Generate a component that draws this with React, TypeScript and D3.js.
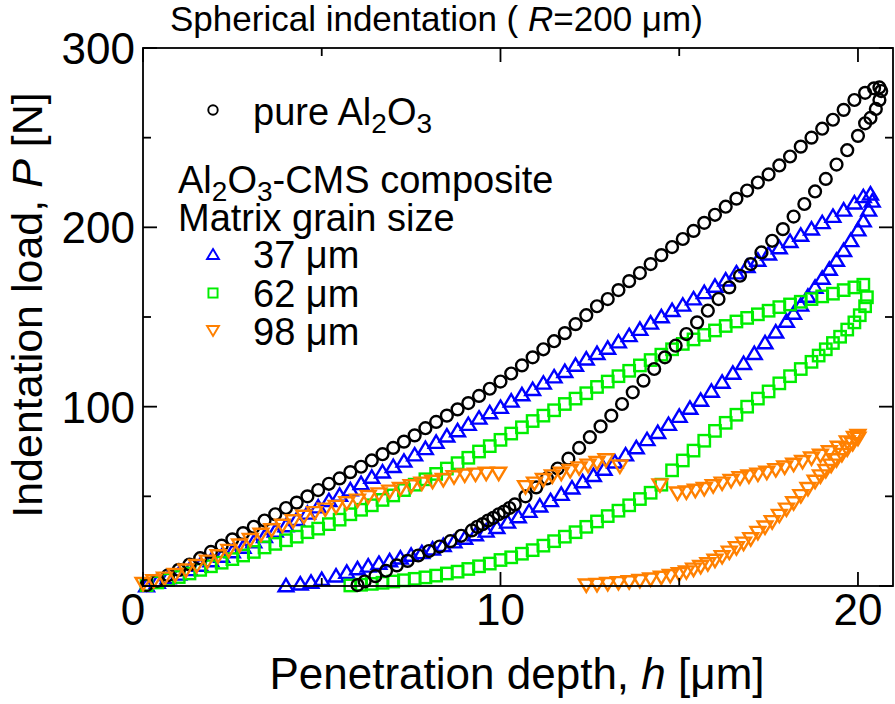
import * as d3 from "d3";

type Pt = [number, number];

// depth h [um], load P [N]
const aluminaLoad: Pt[] = [
  [0.1, 0.5], [0.4, 3], [0.7, 6], [1.0, 9], [1.3, 12], [1.6, 15.5], [1.9, 19], [2.2, 22.5], [2.5, 26],
  [2.8, 29.5], [3.1, 33], [3.4, 36.5], [3.7, 40], [4.0, 43.5], [4.3, 46.5], [4.6, 50], [4.9, 53.5],
  [5.2, 57], [5.5, 60], [5.8, 63.5], [6.1, 66.5], [6.4, 70], [6.7, 73.5], [7.0, 77], [7.3, 80.5],
  [7.6, 84], [7.9, 88], [8.2, 91.5], [8.5, 95], [8.8, 98.5], [9.1, 102], [9.4, 106], [9.7, 110],
  [10.0, 114], [10.3, 118.5], [10.6, 123], [10.9, 127.5], [11.2, 132], [11.5, 136.5], [11.8, 141],
  [12.1, 146], [12.4, 151], [12.7, 156], [13.0, 160], [13.3, 165], [13.6, 170], [13.9, 174.5],
  [14.2, 179.5], [14.5, 184.5], [14.8, 189], [15.1, 193.5], [15.4, 198], [15.7, 202.5], [16.0, 207],
  [16.3, 211.5], [16.6, 216], [16.9, 220.5], [17.2, 225], [17.5, 229.5], [17.8, 234.5], [18.1, 239.5],
  [18.4, 245], [18.7, 250], [19.0, 255], [19.3, 260], [19.6, 265.5], [19.9, 271], [20.2, 275],
  [20.45, 277.5], [20.6, 278],
];
const aluminaUnload: Pt[] = [
  [20.65, 276], [20.6, 271], [20.5, 266], [20.35, 261], [20.2, 258], [20.0, 251], [19.7, 243],
  [19.4, 235], [19.1, 227], [18.8, 220], [18.5, 213], [18.2, 206], [17.9, 199], [17.6, 192.5],
  [17.3, 186], [17.0, 179.5], [16.7, 173], [16.4, 166.5], [16.1, 160], [15.8, 153.5], [15.5, 147],
  [15.2, 140.5], [14.9, 134], [14.6, 127.5], [14.3, 121], [14.0, 114.5], [13.7, 108], [13.4, 101.5],
  [13.1, 95], [12.8, 89], [12.5, 83], [12.2, 77], [11.9, 71], [11.6, 65.5], [11.3, 60], [11.0, 55],
  [10.7, 50], [10.4, 45.5], [10.25, 43.5], [10.1, 41.5], [9.95, 40], [9.8, 38], [9.65, 36.5],
  [9.5, 34.5], [9.35, 33], [9.2, 31], [8.9, 28], [8.6, 25], [8.3, 22], [8.0, 19.5], [7.7, 17],
  [7.4, 14], [7.1, 11.5], [6.8, 8.5], [6.5, 5.5], [6.2, 2.5], [6.0, 0.5],
];

const grain37Load: Pt[] = [
  [0.1, 0.5], [0.4, 2.5], [0.7, 5], [1.0, 7], [1.3, 9.5], [1.6, 12], [1.9, 14.5], [2.2, 17],
  [2.5, 19.5], [2.8, 22], [3.1, 25], [3.4, 28], [3.7, 31], [4.0, 34], [4.3, 37.5], [4.6, 41],
  [4.9, 44.5], [5.2, 48], [5.5, 51], [5.8, 54], [6.1, 57.5], [6.4, 61], [6.7, 64], [7.0, 67],
  [7.3, 70], [7.6, 73.5], [7.9, 77], [8.2, 80.5], [8.5, 84], [8.8, 87], [9.1, 90.5], [9.4, 94],
  [9.7, 97], [10.0, 100], [10.3, 103.5], [10.6, 107], [10.9, 110], [11.2, 113.5], [11.5, 117],
  [11.8, 120], [12.1, 123.5], [12.4, 127], [12.7, 130], [13.0, 133], [13.3, 136.5], [13.6, 140],
  [13.9, 143.5], [14.2, 147], [14.5, 150.5], [14.8, 154], [15.1, 157], [15.4, 160.5], [15.7, 164],
  [16.0, 167.5], [16.3, 171], [16.6, 175], [16.9, 178.5], [17.2, 182], [17.5, 185.5], [17.8, 189],
  [18.1, 192.5], [18.4, 196], [18.7, 199.5], [19.0, 203], [19.3, 206.5], [19.6, 210], [19.9, 214],
  [20.15, 217.5], [20.35, 219],
];
const grain37Unload: Pt[] = [
  [20.4, 215], [20.3, 210], [20.15, 204], [20.0, 199], [19.8, 193], [19.6, 187.5], [19.4, 182],
  [19.2, 177], [19.0, 172], [18.8, 167], [18.6, 162], [18.4, 157], [18.2, 152.5], [18.0, 148],
  [17.7, 142], [17.4, 136], [17.1, 130], [16.8, 124.5], [16.5, 119], [16.2, 114], [15.9, 109],
  [15.6, 104], [15.3, 99.5], [15.0, 95], [14.7, 90.5], [14.4, 86], [14.1, 82], [13.8, 77.5],
  [13.5, 73.5], [13.2, 69.5], [12.9, 65.5], [12.6, 62], [12.3, 58.5], [12.0, 55], [11.7, 51.5],
  [11.4, 48], [11.1, 45], [10.8, 42], [10.5, 39], [10.2, 36], [9.9, 33], [9.6, 31], [9.3, 29],
  [9.0, 27], [8.7, 25], [8.4, 23], [8.1, 21], [7.8, 19], [7.5, 17.5], [7.2, 16], [6.9, 14.5],
  [6.6, 13], [6.3, 11.5], [6.0, 10], [5.7, 8], [5.4, 6], [5.0, 4], [4.7, 2.5], [4.4, 1.5], [4.0, 0.5],
];

const grain62Load: Pt[] = [
  [0.1, 0.5], [0.4, 2], [0.7, 3.5], [1.0, 5], [1.3, 7], [1.6, 9], [1.9, 11], [2.2, 13], [2.5, 15],
  [2.8, 17], [3.1, 19], [3.4, 21.5], [3.7, 23.5], [4.0, 25.5], [4.3, 27.5], [4.6, 30], [4.9, 32],
  [5.2, 34.5], [5.5, 37], [5.8, 40], [6.1, 42.5], [6.4, 45], [6.7, 48], [7.0, 50.5], [7.3, 53.5],
  [7.6, 56.5], [7.9, 59.5], [8.2, 62.5], [8.5, 65.5], [8.8, 68.5], [9.1, 71.5], [9.4, 75], [9.7, 78],
  [10.0, 81.5], [10.3, 85], [10.6, 88.5], [10.9, 92], [11.2, 95], [11.5, 98], [11.8, 101.5],
  [12.1, 104.5], [12.4, 107.5], [12.7, 111], [13.0, 114], [13.3, 117], [13.6, 120], [13.9, 123],
  [14.2, 126], [14.5, 129], [14.8, 132], [15.1, 135], [15.4, 137.5], [15.7, 140], [16.0, 142.5],
  [16.3, 145], [16.6, 147.5], [16.9, 149.5], [17.2, 151.5], [17.5, 153.5], [17.8, 155.5], [18.1, 157],
  [18.4, 158.5], [18.7, 160], [19.0, 161.5], [19.3, 163], [19.6, 165], [19.9, 166.5], [20.15, 168],
];
const grain62Unload: Pt[] = [
  [20.25, 161], [20.2, 156], [20.05, 151], [19.9, 147], [19.7, 143], [19.5, 139], [19.3, 135.5],
  [19.1, 132], [18.9, 128.5], [18.7, 125], [18.4, 121], [18.1, 117], [17.8, 113], [17.5, 108.5],
  [17.2, 104.5], [16.9, 100], [16.6, 95.5], [16.3, 91], [16.0, 86.5], [15.7, 81], [15.4, 75.5],
  [15.1, 70], [14.8, 64.5], [14.5, 56.5], [14.2, 52], [13.9, 48.5], [13.6, 45], [13.3, 42],
  [13.0, 39], [12.7, 36], [12.4, 33], [12.1, 30], [11.8, 27.5], [11.5, 25], [11.2, 22.5], [10.9, 20],
  [10.6, 18], [10.3, 16], [10.0, 14.5], [9.7, 12.5], [9.4, 11], [9.1, 9.5], [8.8, 8], [8.5, 7],
  [8.2, 5.8], [7.9, 4.8], [7.6, 4], [7.3, 3.2], [7.0, 2.5], [6.7, 1.8], [6.4, 1.2], [6.1, 0.7], [5.8, 0.3],
];

const grain98Load: Pt[] = [
  [0.0, 1], [0.3, 2.5], [0.6, 4], [0.9, 6], [1.2, 8.5], [1.5, 11], [1.8, 13.5], [2.1, 16.5],
  [2.4, 19.5], [2.7, 22.5], [3.0, 25.5], [3.3, 28.5], [3.6, 31], [3.9, 33.5], [4.2, 36], [4.5, 38.5],
  [4.8, 40.5], [5.1, 42.5], [5.4, 44], [5.7, 46], [6.0, 47.5], [6.3, 49.5], [6.6, 51], [6.9, 52.5],
  [7.2, 54], [7.5, 55.5], [7.8, 57], [8.1, 58], [8.4, 59], [8.7, 60.5], [9.0, 61.5], [9.3, 62],
  [9.6, 62.5], [9.95, 62.5],
  [10.7, 55], [10.95, 57], [11.2, 59], [11.45, 61], [11.7, 62.5], [11.95, 64], [12.2, 65.5],
  [12.45, 67], [12.7, 68.5], [12.95, 70], [13.34, 66.5],
  [14.46, 56],
  [14.95, 51.5], [15.2, 52], [15.45, 53], [15.7, 54], [15.95, 55.5], [16.2, 57], [16.45, 58.5],
  [16.7, 60], [16.95, 61], [17.2, 62], [17.45, 63], [17.7, 64.5], [17.95, 66], [18.2, 67.5],
  [18.45, 69], [18.7, 71], [18.95, 72.5], [19.2, 74.5], [19.45, 77], [19.7, 80], [19.9, 82.5],
  [20.0, 83.5],
];
const grain98Unload: Pt[] = [
  [20.0, 82], [19.85, 79], [19.7, 76], [19.55, 73], [19.4, 70], [19.25, 67], [19.1, 64], [18.95, 61],
  [18.8, 58], [18.6, 54], [18.4, 50], [18.2, 46], [18.0, 42.5], [17.8, 39], [17.6, 35.5], [17.4, 32.5],
  [17.2, 29.5], [17.0, 26], [16.8, 23.5], [16.6, 21], [16.4, 18.5], [16.2, 16], [16.0, 14], [15.8, 12],
  [15.6, 10.5], [15.4, 9], [15.2, 7.5], [15.0, 6.5], [14.75, 5.5], [14.5, 4.5], [14.2, 3.5],
  [13.9, 2.7], [13.6, 2], [13.3, 1.5], [13.0, 1], [12.7, 0.5], [12.4, 0.2],
];

const xMajorTicks = [0, 10, 20];
const xMinorTicks = [5, 15];
const yMajorTicks = [0, 100, 200, 300];
const yMinorTicks = [50, 150, 250];
const yTickLabels = [100, 200, 300];

const grainLabels = ["37 \u03bcm", "62 \u03bcm", "98 \u03bcm"];

const blue = "#0000ff";
const green = "#00ee00";
const orange = "#ff8000";

const font = "'Liberation Sans', Arial, Helvetica, sans-serif";

const width = 895;
const height = 704;
const left = 143;
const right = 893;
const top = 48;
const bottom = 586;

type Shape = "circle" | "up" | "square" | "down";

function Marker({ shape, x, y, color, s = 1 }: { shape: Shape; x: number; y: number; color: string; s?: number }) {
  const sw = 2.4 * s;
  if (shape === "circle") {
    return <circle cx={x} cy={y} r={5.9 * s} fill="none" stroke={color} strokeWidth={sw} />;
  }
  if (shape === "square") {
    const a = 5.7 * s;
    return <rect x={x - a} y={y - a} width={2 * a} height={2 * a} fill="none" stroke={color} strokeWidth={sw} />;
  }
  const w = 7.4 * s;
  const h = 6.2 * s;
  const d =
    shape === "up"
      ? `M${x},${y - h}L${x + w},${y + h}L${x - w},${y + h}Z`
      : `M${x},${y + h}L${x + w},${y - h}L${x - w},${y - h}Z`;
  return <path d={d} fill="none" stroke={color} strokeWidth={sw} strokeLinejoin="miter" />;
}

export default function App() {
  const x = d3.scaleLinear().domain([0, 20.98]).range([left, right]);
  const y = d3.scaleLinear().domain([0, 300]).range([bottom, top]);

  const series: { pts: Pt[]; shape: Shape; color: string }[] = [
    { pts: grain37Load, shape: "up", color: blue },
    { pts: grain37Unload, shape: "up", color: blue },
    { pts: grain62Load, shape: "square", color: green },
    { pts: grain62Unload, shape: "square", color: green },
    { pts: aluminaLoad, shape: "circle", color: "#000" },
    { pts: aluminaUnload, shape: "circle", color: "#000" },
    { pts: grain98Load, shape: "down", color: orange },
    { pts: grain98Unload, shape: "down", color: orange },
  ];

  const major = 14;
  const minor = 8;

  return (
    <svg
      width={width}
      height={height}
      style={{ position: "absolute", left: 0, top: 0, background: "#fff" }}
      fontFamily={font}
    >
      <rect width={width} height={height} fill="#fff" />

      {/* data */}
      <g>
        {series.map((s, i) =>
          s.pts.map((p, j) => (
            <Marker key={`${i}-${j}`} shape={s.shape} x={x(p[0])} y={y(p[1])} color={s.color} />
          )),
        )}
      </g>

      {/* frame and ticks */}
      <g stroke="#000" strokeWidth={1.8} fill="none">
        <rect x={left} y={top} width={right - left} height={bottom - top} />
        {xMajorTicks.map((t) => (
          <g key={`xm${t}`}>
            <line x1={x(t)} x2={x(t)} y1={bottom} y2={bottom - major} />
            <line x1={x(t)} x2={x(t)} y1={top} y2={top + major} />
          </g>
        ))}
        {xMinorTicks.map((t) => (
          <g key={`xn${t}`}>
            <line x1={x(t)} x2={x(t)} y1={bottom} y2={bottom - minor} />
            <line x1={x(t)} x2={x(t)} y1={top} y2={top + minor} />
          </g>
        ))}
        {yMajorTicks.map((t) => (
          <g key={`ym${t}`}>
            <line x1={left} x2={left + major} y1={y(t)} y2={y(t)} />
            <line x1={right} x2={right - major} y1={y(t)} y2={y(t)} />
          </g>
        ))}
        {yMinorTicks.map((t) => (
          <g key={`yn${t}`}>
            <line x1={left} x2={left + minor} y1={y(t)} y2={y(t)} />
            <line x1={right} x2={right - minor} y1={y(t)} y2={y(t)} />
          </g>
        ))}
      </g>

      {/* tick labels */}
      <g fontSize={44} fill="#000">
        {xMajorTicks.map((t) => (
          <text key={`xl${t}`} x={x(t) - (t === 0 ? 10 : 0)} y={bottom + 39} textAnchor="middle">
            {t}
          </text>
        ))}
        {yTickLabels.map((t) => (
          <text key={`yl${t}`} x={left - 8} y={y(t) + 16} textAnchor="end">
            {t}
          </text>
        ))}
      </g>

      {/* axis titles */}
      <text x={517} y={689} fontSize={44} textAnchor="middle">
        Penetration depth, <tspan fontStyle="italic">h</tspan> [{"\u03bc"}m]
      </text>
      <text transform="translate(42,305) rotate(-90)" fontSize={43} textAnchor="middle">
        Indentation load, <tspan fontStyle="italic">P</tspan> [N]
      </text>
      <text x={170} y={31} fontSize={35}>
        Spherical indentation ( <tspan fontStyle="italic">R</tspan>=200 {"\u03bc"}m)
      </text>

      {/* legend */}
      <g fontSize={38} fill="#000">
        <Marker shape="circle" x={213} y={110} color="#000" s={0.8} />
        <text x={253} y={125}>
          pure Al<tspan fontSize={28} dy={8}>2</tspan>
          <tspan dy={-8}>O</tspan>
          <tspan fontSize={28} dy={8}>3</tspan>
        </text>
        <text x={178} y={193}>
          Al<tspan fontSize={28} dy={8}>2</tspan>
          <tspan dy={-8}>O</tspan>
          <tspan fontSize={28} dy={8}>3</tspan>
          <tspan dy={-8}>-CMS composite</tspan>
        </text>
        <text x={178} y={231}>Matrix grain size</text>
        <Marker shape="up" x={213} y={254} color={blue} s={0.8} />
        <Marker shape="square" x={213} y={293} color={green} s={0.8} />
        <Marker shape="down" x={213} y={331} color={orange} s={0.8} />
        {grainLabels.map((g, i) => (
          <text key={g} x={253} y={268 + i * 38.5}>
            {g}
          </text>
        ))}
      </g>
    </svg>
  );
}
